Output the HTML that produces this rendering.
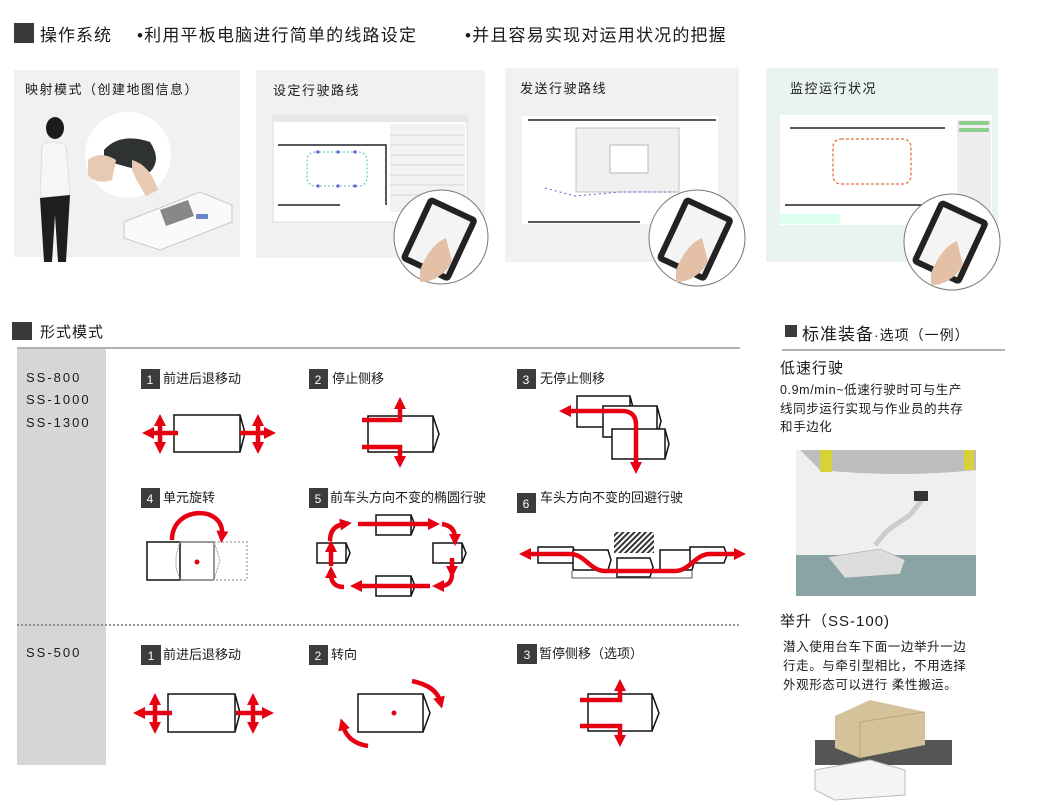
<!DOCTYPE html>
<html><head><meta charset="utf-8"><style>
html,body{margin:0;padding:0;background:#fff;width:1045px;height:804px;overflow:hidden}
svg{display:block}
text{font-family:"Liberation Sans","Noto Sans CJK SC",sans-serif;fill:#1a1a1a}
</style></head><body>
<svg width="1045" height="804" viewBox="0 0 1045 804" xmlns="http://www.w3.org/2000/svg">
<defs>
<marker id="ah" markerUnits="userSpaceOnUse" markerWidth="12" markerHeight="12" refX="4" refY="6" orient="auto-start-reverse"><path d="M0,0 L12,6 L0,12 z" fill="#e60012"/></marker>
<pattern id="hatch" width="4" height="4" patternUnits="userSpaceOnUse" patternTransform="rotate(45)"><rect width="2" height="4" fill="#333"/></pattern>
</defs>

<!-- Header -->
<rect x="14" y="23" width="20" height="20" fill="#3a3a3a"/>
<text x="40" y="41" font-size="17" letter-spacing="1">操作系统</text>
<text x="137" y="41" font-size="17" letter-spacing="1.2">•利用平板电脑进行简单的线路设定</text>
<text x="465" y="41" font-size="17" letter-spacing="1.2">•并且容易实现对运用状况的把握</text>

<!-- Panel 1 -->
<rect x="14" y="70" width="226" height="187" fill="#f3f1ef"/>
<text x="25" y="94" font-size="13" letter-spacing="1.5">映射模式（创建地图信息）</text>
<circle cx="128" cy="155" r="43" fill="#fff"/>
<path d="M104,150 Q120,132 150,142 Q162,160 150,172 Q128,168 104,160z" fill="#2e3230"/>
<path d="M88,160 Q100,150 116,160 L112,180 Q96,185 88,175z" fill="#e8c9b2"/>
<path d="M132,160 Q150,165 158,190 L146,196 Q136,180 132,170z" fill="#e8c9b2"/>
<ellipse cx="55" cy="128" rx="9" ry="11" fill="#1c1c1c"/>
<path d="M42,145 Q55,138 66,146 L70,195 L40,198z" fill="#f6f6f6" stroke="#ccc" stroke-width="0.5"/>
<path d="M40,198 L70,195 L66,262 L58,262 L55,215 L52,262 L44,262z" fill="#1e1e1e"/>
<path d="M124,222 L200,192 L232,205 L232,222 L160,250 L124,238z" fill="#fafafa" stroke="#c8c8c8"/>
<path d="M160,210 L188,200 L194,216 L166,226z" fill="#888"/>
<rect x="196" y="214" width="12" height="5" fill="#6b86c9"/>

<!-- Panel 2 -->
<rect x="256" y="70" width="229" height="188" fill="#f3f1ef"/>
<text x="273" y="95" font-size="13" letter-spacing="1.5">设定行驶路线</text>
<rect x="273" y="116" width="194" height="106" fill="#fff" stroke="#ddd"/>
<rect x="273" y="116" width="194" height="6" fill="#e8e8e8"/>
<rect x="390" y="124" width="75" height="88" fill="#f2f2f2"/>
<g stroke="#bbb" stroke-width="0.5">
<line x1="390" y1="135" x2="465" y2="135"/><line x1="390" y1="145" x2="465" y2="145"/><line x1="390" y1="155" x2="465" y2="155"/><line x1="390" y1="165" x2="465" y2="165"/><line x1="390" y1="175" x2="465" y2="175"/><line x1="390" y1="185" x2="465" y2="185"/><line x1="390" y1="195" x2="465" y2="195"/></g>
<path d="M278,145 H386 V205 M278,205 H340" stroke="#222" stroke-width="1.5" fill="none"/>
<rect x="307" y="152" width="60" height="34" rx="8" fill="none" stroke="#5bb" stroke-width="1" stroke-dasharray="2,2"/>
<g fill="#6a5acd"><circle cx="318" cy="152" r="1.6"/><circle cx="338" cy="152" r="1.6"/><circle cx="355" cy="152" r="1.6"/><circle cx="318" cy="186" r="1.6"/><circle cx="338" cy="186" r="1.6"/><circle cx="355" cy="186" r="1.6"/></g>
<circle cx="441" cy="237" r="47" fill="#fff" stroke="#777"/>
<rect x="412" y="205" width="54" height="70" rx="5" fill="#222" transform="rotate(25 441 240)"/>
<rect x="418" y="211" width="42" height="58" fill="#f4f4f4" transform="rotate(25 441 240)"/>
<path d="M420,270 Q430,245 446,238 L452,262 Q440,282 420,282z" fill="#e4c0a6"/>

<!-- Panel 3 -->
<rect x="505" y="68" width="234" height="194" fill="#f3f1ef"/>
<text x="520" y="93" font-size="13" letter-spacing="1.5">发送行驶路线</text>
<rect x="522" y="116" width="196" height="108" fill="#fff"/>
<path d="M528,120 H716 M528,222 H640" stroke="#222" stroke-width="1.5" fill="none"/>
<rect x="576" y="128" width="103" height="64" fill="#f0f0f0" stroke="#aaa" stroke-width="0.7"/>
<rect x="610" y="145" width="38" height="28" fill="#fff" stroke="#999" stroke-width="0.7"/>
<path d="M545,188 L575,196 L620,192 L675,192" stroke="#6a5acd" stroke-width="1" fill="none" stroke-dasharray="2,3"/>
<circle cx="697" cy="238" r="48" fill="#fff" stroke="#777"/>
<rect x="668" y="205" width="54" height="70" rx="5" fill="#222" transform="rotate(25 697 240)"/>
<rect x="674" y="211" width="42" height="58" fill="#f4f4f4" transform="rotate(25 697 240)"/>
<path d="M676,270 Q686,245 702,238 L708,262 Q696,282 676,282z" fill="#e4c0a6"/>

<!-- Panel 4 -->
<rect x="766" y="68" width="232" height="194" fill="#e9f3f1"/>
<text x="790" y="93" font-size="13" letter-spacing="1.5">监控运行状况</text>
<rect x="780" y="115" width="212" height="110" fill="#fff"/>
<rect x="957" y="120" width="34" height="100" fill="#eee"/>
<g fill="#8ccf8c"><rect x="959" y="121" width="30" height="4"/><rect x="959" y="128" width="30" height="4"/></g>
<path d="M785,205 H950 M790,128 H945" stroke="#222" stroke-width="1.5" fill="none"/>
<rect x="833" y="139" width="78" height="45" rx="8" fill="none" stroke="#e36a3e" stroke-width="1.2" stroke-dasharray="3,2"/>
<rect x="780" y="214" width="60" height="10" fill="#dfe"/>
<circle cx="952" cy="242" r="48" fill="#fff" stroke="#777"/>
<rect x="923" y="208" width="54" height="70" rx="5" fill="#222" transform="rotate(25 952 243)"/>
<rect x="929" y="214" width="42" height="58" fill="#f4f4f4" transform="rotate(25 952 243)"/>
<path d="M931,273 Q941,248 957,241 L963,265 Q951,285 931,285z" fill="#e4c0a6"/>

<!-- Section 2 header -->
<rect x="12" y="322" width="20" height="18" fill="#3a3a3a"/>
<text x="40" y="337" font-size="15" letter-spacing="1">形式模式</text>
<line x1="17" y1="348" x2="740" y2="348" stroke="#666" stroke-width="1"/>
<rect x="17" y="349" width="89" height="416" fill="#d6d6d6"/>
<g font-size="13" letter-spacing="2"><text x="26" y="382">SS-800</text><text x="26" y="404">SS-1000</text><text x="26" y="427">SS-1300</text><text x="26" y="657">SS-500</text></g>
<line x1="17" y1="625" x2="740" y2="625" stroke="#777" stroke-width="1.5" stroke-dasharray="2,2"/>

<!-- badges -->
<g fill="#3c3c3c">
<rect x="141" y="369" width="19" height="20"/><rect x="309" y="369" width="19" height="20"/><rect x="517" y="369" width="19" height="20"/>
<rect x="141" y="488" width="19" height="20"/><rect x="309" y="488" width="19" height="20"/><rect x="517" y="493" width="19" height="20"/>
<rect x="141" y="645" width="20" height="20"/><rect x="309" y="645" width="19" height="20"/><rect x="517" y="644" width="20" height="20"/>
</g>
<g font-size="12" text-anchor="middle">
<text x="150" y="384" style="fill:#fff">1</text><text x="318" y="384" style="fill:#fff">2</text><text x="526" y="384" style="fill:#fff">3</text>
<text x="150" y="503" style="fill:#fff">4</text><text x="318" y="503" style="fill:#fff">5</text><text x="526" y="508" style="fill:#fff">6</text>
<text x="151" y="660" style="fill:#fff">1</text><text x="318" y="660" style="fill:#fff">2</text><text x="527" y="659" style="fill:#fff">3</text>
</g>
<g font-size="13">
<text x="163" y="383">前进后退移动</text><text x="332" y="383">停止侧移</text><text x="540" y="383">无停止侧移</text>
<text x="163" y="502">单元旋转</text><text x="330" y="502">前车头方向不变的椭圆行驶</text><text x="540" y="502">车头方向不变的回避行驶</text>
<text x="163" y="659">前进后退移动</text><text x="331" y="659">转向</text><text x="539" y="658">暂停侧移（选项）</text>
</g>

<g fill="#fff" stroke="#111" stroke-width="1.5">
<path d="M174,415 H240 L245,433 L240,452 H174z M240,415 V452"/>
<path d="M368,416 H433 L439,434 L433,452 H368z M433,416 V452"/>
<path d="M577,396 H630 L634,411 L630,427 H577z M630,396 V427"/>
<path d="M603,406 H657 L661,421 L657,437 H603z M657,406 V437"/>
<path d="M612,429 H665 L669,444 L665,459 H612z M665,429 V459"/>
</g>
<rect x="147" y="542" width="33" height="38" fill="#fff" stroke="#111" stroke-width="1.5"/>
<path d="M180,542 H214 M180,580 H214 M214,542 V580" stroke="#777" stroke-width="1.5" fill="none"/>
<path d="M180,542 L176,556 V568 L180,580 M214,542 L220,560 L214,580" stroke="#999" stroke-width="1" stroke-dasharray="2,1" fill="none"/>
<path d="M214,542 H247 V580 H214" stroke="#888" stroke-width="1" stroke-dasharray="2,2" fill="none"/>
<circle cx="197" cy="562" r="2.5" fill="#e60012"/>
<g fill="#fff" stroke="#111" stroke-width="1.5">
<path d="M376,515 H411 L415,525 L411,535 H376z M411,515 V535"/>
<path d="M317,543 H346 L350,553 L346,563 H317z M346,543 V563"/>
<path d="M433,543 H462 L466,553 L462,563 H433z M462,543 V563"/>
<path d="M376,576 H411 L415,586 L411,596 H376z M411,576 V596"/>
<path d="M538,547 H573 L576,555 L573,563 H538z"/>
<path d="M573,550 H608 L611,560 L608,570 H573z"/>
<path d="M617,558 H650 L653,567 L650,577 H617z"/>
<path d="M660,550 H692 L695,560 L692,570 H660z"/>
<path d="M690,547 H724 L727,555 L724,563 H690z"/>
</g>
<rect x="614" y="532" width="40" height="21" fill="url(#hatch)"/>
<path d="M572,571 V578 H692 V571" stroke="#555" stroke-width="1" fill="none"/>

<!-- SS-500 boxes -->
<g fill="#fff" stroke="#111" stroke-width="1.5">
<path d="M168,694 H235 L240,713 L235,732 H168z M235,694 V732"/>
<path d="M358,694 H423 L430,713 L423,732 H358z M423,694 V732"/>
<path d="M588,694 H652 L659,713 L652,731 H588z M652,694 V731"/>
</g>
<circle cx="394" cy="713" r="2.5" fill="#e60012"/>

<g stroke="#e60012" stroke-width="4.5" fill="none" marker-end="url(#ah)">
<path d="M178,433 H150"/><path d="M160,433 V422"/><path d="M160,433 V446"/>
<path d="M240,433 H268"/><path d="M258,433 V422"/><path d="M258,433 V446"/>
<path d="M362,420 H400 V405"/><path d="M362,447 H400 V460"/>
<path d="M567,411 H622 Q636,411 636,425 V466" marker-start="url(#ah)"/>
<path d="M172,540 C172,505 225,505 222,535"/>
<path d="M358,524 H432"/>
<path d="M330,541 Q330,526 344,524"/>
<path d="M442,524 Q455,526 455,538"/>
<path d="M452,558 V570"/>
<path d="M452,574 Q452,586 440,586"/>
<path d="M430,586 H358"/>
<path d="M344,587 Q331,587 331,574"/>
<path d="M331,566 V548"/>
<path d="M527,554 H570 C585,554 590,571 605,571 H675 C690,571 695,554 710,554 H738" marker-start="url(#ah)"/>
<path d="M172,713 H141"/><path d="M155,713 V701"/><path d="M155,713 V726"/>
<path d="M236,713 H266"/><path d="M253,713 V701"/><path d="M253,713 V726"/>
<path d="M412,681 Q436,686 440,701"/>
<path d="M368,746 Q348,743 343,726"/>
<path d="M580,700 H620 V687"/><path d="M580,726 H620 V739"/>
</g>

<!-- Right column -->
<rect x="785" y="325" width="12" height="12" fill="#3a3a3a"/>
<text x="802" y="340" font-size="17" letter-spacing="1">标准装备<tspan font-size="14">·选项（一例）</tspan></text>
<line x1="782" y1="350" x2="1005" y2="350" stroke="#666"/>
<text x="780" y="373" font-size="15" letter-spacing="1">低速行驶</text>
<g font-size="12.5" letter-spacing="0.6"><text x="780" y="394">0.9m/min~低速行驶时可与生产</text><text x="780" y="413">线同步运行实现与作业员的共存</text><text x="780" y="431">和手边化</text></g>
<rect x="796" y="450" width="180" height="146" fill="#eef0f0"/>
<rect x="796" y="555" width="180" height="41" fill="#8aa3a4"/>
<path d="M800,450 H976 V470 Q900,478 820,470z" fill="#bdbdbd"/>
<rect x="820" y="450" width="12" height="22" fill="#d8d23a"/><rect x="964" y="450" width="10" height="20" fill="#d8d23a"/>
<path d="M828,557 L880,549 L905,560 L900,574 L845,578z" fill="#ddd" stroke="#999" stroke-width="0.5"/>
<path d="M875,545 L888,530 L910,515 L922,500" stroke="#ccc" stroke-width="5" fill="none"/>
<rect x="914" y="491" width="14" height="10" fill="#333"/>
<text x="780" y="626" font-size="15" letter-spacing="1">举升（SS-100)</text>
<g font-size="12.5" letter-spacing="0.6"><text x="783" y="651">潜入使用台车下面一边举升一边</text><text x="783" y="670">行走。与牵引型相比，不用选择</text><text x="783" y="689">外观形态可以进行 柔性搬运。</text></g>
<path d="M815,740 H952 V765 H815z" fill="#555"/>
<path d="M835,716 L870,700 L925,712 L925,745 L860,758 L835,748z" fill="#d4c29a"/>
<path d="M860,722 L925,712 M860,722 V758" stroke="#b8a57c" fill="none"/>
<path d="M815,770 L870,760 L905,770 L905,795 L835,800 L815,790z" fill="#f4f4f4" stroke="#bbb"/>
</svg>
</body></html>
